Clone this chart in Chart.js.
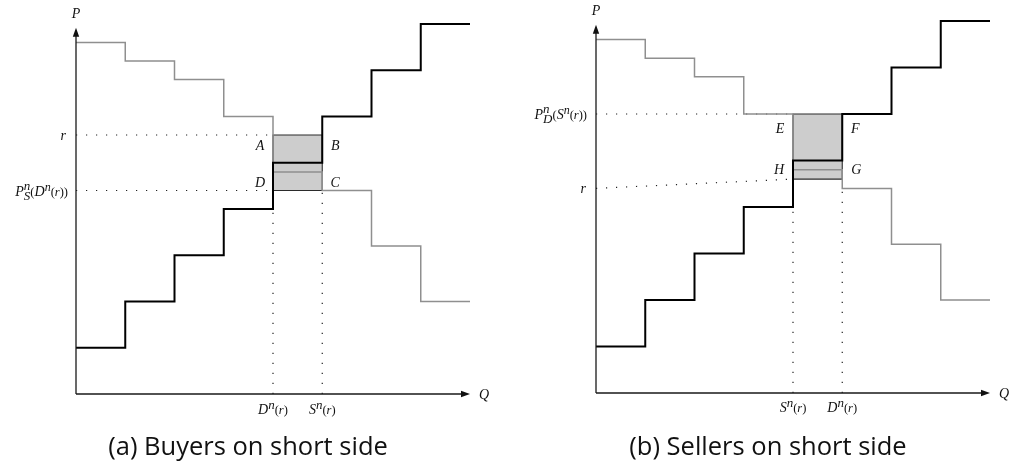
<!DOCTYPE html>
<html>
<head>
<meta charset="utf-8">
<script src="https://cdn.jsdelivr.net/npm/chart.js@4/dist/chart.umd.min.js"></script>
<style>
  html,body{margin:0;padding:0;background:#fff;}
  #wrap{position:relative;width:1020px;height:462px;overflow:hidden;background:#fff;}
  canvas{position:absolute;top:0;}
  .cap{position:absolute;top:428px;height:34px;line-height:34px;text-align:center;
       font-family:"Open Sans",sans-serif;font-size:25.5px;color:#111;}
</style>
</head>
<body>
<div id="wrap">
  <canvas id="ca" width="510" height="462" style="left:0"></canvas>
  <canvas id="cb" width="510" height="462" style="left:510px"></canvas>
  <div class="cap" style="left:0;width:496px">(a) Buyers on short side</div>
  <div class="cap" style="left:510px;width:516px">(b) Sellers on short side</div>
</div>
<script>
// ---- data (quantity breakpoints, step prices) ----
const qSteps  = [0, 1, 2, 3, 4, 5, 6, 7, 8];
const supplyP = [1, 2, 3, 4, 5, 6, 7, 8];
const demandP = [7.6, 7.2, 6.8, 6.0, 4.8, 4.4, 3.2, 2.0];
// panel (a): buyers on short side
const aR   = 5.6;   // r
const aPS  = 4.4;   // P_S^n(D^n(r))
const aDn  = 4;     // D^n(r)
const aSn  = 5;     // S^n(r)
// panel (b): sellers on short side
const bPD  = 6.0;        // P_D^n(S^n(r))
const bR   = [4.4, 4.6]; // r (left end, right end of guide)
const bSn  = 4;          // S^n(r)
const bDn  = 5;          // D^n(r)
const axisTop = 7.92;

function stepPts(prices){
  return qSteps.map((q,i)=>({x:q, y:prices[Math.min(i, prices.length-1)]}));
}
function seg(pts, color, width, dash, order, extra){
  return Object.assign({type:'line', data:pts, borderColor:color, borderWidth:width,
    borderDash:dash||[], pointRadius:0, tension:0, clip:false, fill:false, order:order}, extra||{});
}
const F = '"Liberation Serif", "DejaVu Serif", serif';
function fnt(s,it){return (it?'italic ':'')+s+'px '+F;}
function drawRich(ctx, parts, x, y, align){
  let w=0; const ws=[];
  parts.forEach(p=>{
    let pw;
    if(p.sup!==undefined){
      ctx.font=fnt(p.s,true); pw=Math.max(ctx.measureText(p.sup).width, ctx.measureText(p.sub).width);
    } else { ctx.font=fnt(p.s,p.it); pw=ctx.measureText(p.t).width; }
    ws.push(pw); w+=pw;
  });
  let cx = align==='right'? x-w : align==='center'? x-w/2 : x;
  const base = y+5;
  ctx.fillStyle='#111'; ctx.textAlign='left'; ctx.textBaseline='alphabetic';
  parts.forEach((p,i)=>{
    if(p.sup!==undefined){
      ctx.font=fnt(p.s,true);
      ctx.fillText(p.sup, cx, base-6);
      ctx.fillText(p.sub, cx, base+4);
    } else {
      ctx.font=fnt(p.s,p.it); ctx.fillText(p.t, cx, base+(p.dy||0));
    }
    cx+=ws[i];
  });
}
const L = {
  P:[{t:'P',s:14,it:1}], Q:[{t:'Q',s:14,it:1}], r:[{t:'r',s:14,it:1}],
  Dn:[{t:'D',s:14,it:1},{t:'n',s:13,it:1,dy:-5},{t:'(',s:12.5},{t:'r',s:12.5,it:1},{t:')',s:12.5}],
  Sn:[{t:'S',s:14,it:1},{t:'n',s:13,it:1,dy:-5},{t:'(',s:12.5},{t:'r',s:12.5,it:1},{t:')',s:12.5}],
  PS:[{t:'P',s:14,it:1},{sup:'n',sub:'S',s:13},{t:'(',s:12.5},{t:'D',s:14,it:1},{t:'n',s:12,it:1,dy:-5},{t:'(',s:12.5},{t:'r',s:12.5,it:1},{t:'))',s:12.5}],
  PD:[{t:'P',s:14,it:1},{sup:'n',sub:'D',s:13},{t:'(',s:12.5},{t:'S',s:14,it:1},{t:'n',s:12,it:1,dy:-5},{t:'(',s:12.5},{t:'r',s:12.5,it:1},{t:'))',s:12.5}]
};

function axesLabels(labels){
  return {
    id:'axesLabels',
    afterDatasetsDraw(chart){
      const ctx=chart.ctx, xs=chart.scales.x, ys=chart.scales.y;
      const x0=xs.getPixelForValue(0), y0=ys.getPixelForValue(0);
      const xe=xs.getPixelForValue(8), ye=ys.getPixelForValue(axisTop);
      ctx.save();
      ctx.strokeStyle='#1a1a1a'; ctx.lineWidth=1.3; ctx.setLineDash([]);
      ctx.beginPath(); ctx.moveTo(x0,y0); ctx.lineTo(x0,ye+6); ctx.moveTo(x0,y0); ctx.lineTo(xe-6,y0); ctx.stroke();
      ctx.fillStyle='#111';
      ctx.beginPath(); ctx.moveTo(x0,ye); ctx.lineTo(x0-3.2,ye+9); ctx.lineTo(x0+3.2,ye+9); ctx.closePath(); ctx.fill();
      ctx.beginPath(); ctx.moveTo(xe,y0); ctx.lineTo(xe-9,y0-3.2); ctx.lineTo(xe-9,y0+3.2); ctx.closePath(); ctx.fill();
      drawRich(ctx, L.P, x0, ye-15, 'center');
      drawRich(ctx, L.Q, xe+9, y0, 'left');
      labels.forEach(l=>{
        drawRich(ctx, l.parts, xs.getPixelForValue(l.x)+(l.dx||0), ys.getPixelForValue(l.y)+(l.dy||0), l.align||'center');
      });
      ctx.restore();
    }
  };
}

function makeChart(id, pad, boxX, boxY, dotted, labels){
  const boxFill = seg([{x:boxX[0],y:boxY[1]},{x:boxX[1],y:boxY[1]}], 'rgba(0,0,0,0)', 0, null, 6,
    {fill:{value:boxY[0]}, backgroundColor:'#cdcdcd'});
  const boxLine = seg([{x:boxX[0],y:boxY[0]},{x:boxX[0],y:boxY[1]},{x:boxX[1],y:boxY[1]},{x:boxX[1],y:boxY[0]},{x:boxX[0],y:boxY[0]}],
    '#2b2b2b', 1.1, null, 3);
  const dots = dotted.map(d=>seg(d, '#222', 1.2, [1.2, 8.8], 4));
  return new Chart(document.getElementById(id), {
    data:{datasets:[
      seg(stepPts(supplyP), '#000', 2, null, 0, {stepped:'before'}),
      seg(stepPts(demandP), '#8f8f8f', 1.5, null, 1, {stepped:'before'}),
      boxLine, ...dots, boxFill
    ]},
    options:{
      responsive:false, animation:false, devicePixelRatio:1,
      layout:{padding:pad},
      plugins:{legend:{display:false}, tooltip:{enabled:false}, title:{display:false}},
      scales:{x:{type:'linear',min:0,max:8,display:false}, y:{type:'linear',min:0,max:8,display:false}},
      events:[]
    },
    plugins:[axesLabels(labels)]
  });
}

// panel (a)
makeChart('ca', {left:76,right:40,top:24,bottom:68}, [aDn,aSn], [aPS,aR],
  [
    [{x:0,y:aR},{x:aDn,y:aR}],
    [{x:0,y:aPS},{x:aDn,y:aPS}],
    [{x:aDn,y:0},{x:aDn,y:supplyP[aDn-1]}],
    [{x:aSn,y:0},{x:aSn,y:aPS}]
  ],
  [
    {parts:L.r, x:0, y:aR, dx:-10, align:'right'},
    {parts:L.PS, x:0, y:aPS, dx:-8, align:'right'},
    {parts:[{t:'A',s:14,it:1}], x:aDn, y:aR, dx:-13, dy:10},
    {parts:[{t:'B',s:14,it:1}], x:aSn, y:aR, dx:13, dy:10},
    {parts:[{t:'D',s:14,it:1}], x:aDn, y:aPS, dx:-13, dy:-9},
    {parts:[{t:'C',s:14,it:1}], x:aSn, y:aPS, dx:13, dy:-9},
    {parts:L.Dn, x:aDn, y:0, dy:15},
    {parts:L.Sn, x:aSn, y:0, dy:15}
  ]);

// panel (b)
makeChart('cb', {left:86,right:30,top:21,bottom:69}, [bSn,bDn], [bR[1],bPD],
  [
    [{x:0,y:bPD},{x:bSn,y:bPD}],
    [{x:0,y:bR[0]},{x:bSn,y:bR[1]}],
    [{x:bSn,y:0},{x:bSn,y:supplyP[bSn-1]}],
    [{x:bDn,y:0},{x:bDn,y:demandP[bDn]}]
  ],
  [
    {parts:L.PD, x:0, y:bPD, dx:-9, align:'right'},
    {parts:L.r, x:0, y:bR[0], dx:-10, align:'right'},
    {parts:[{t:'E',s:14,it:1}], x:bSn, y:bPD, dx:-13, dy:14},
    {parts:[{t:'F',s:14,it:1}], x:bDn, y:bPD, dx:13, dy:14},
    {parts:[{t:'H',s:14,it:1}], x:bSn, y:bR[1], dx:-14, dy:-10},
    {parts:[{t:'G',s:14,it:1}], x:bDn, y:bR[1], dx:14, dy:-10},
    {parts:L.Sn, x:bSn, y:0, dy:14},
    {parts:L.Dn, x:bDn, y:0, dy:14}
  ]);
</script>
</body>
</html>
